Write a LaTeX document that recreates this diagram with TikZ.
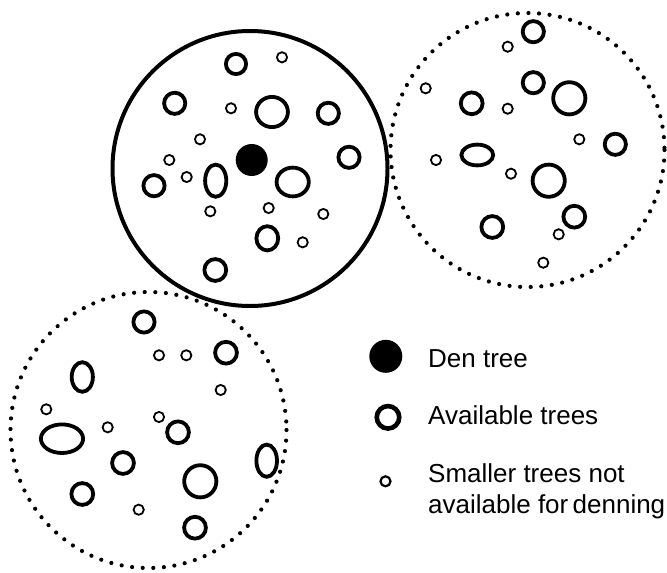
\documentclass[tikz,border=0pt]{standalone}
\usepackage{fontspec}
\setmainfont{Liberation Sans}
\usetikzlibrary{positioning}

\begin{document}
\begin{tikzpicture}[
  x=1pt, y=-1pt,
  every node/.style={font=\fontsize{26}{31}\selectfont, inner sep=0pt},
  homerange/.style={line width=4pt},
  otherrange/.style={line width=4.2pt, line cap=round, dash pattern=on 0pt off 10.6pt},
  avail/.style={line width=3.8pt},
  smalltree/.style={line width=1.8pt},
  denkey/.style={circle, fill, minimum size=33pt},
  availkey/.style={circle, draw, line width=4.6pt, minimum size=22.5pt},
  smallkey/.style={circle, draw, line width=2.2pt, minimum size=10pt}
]
  \useasboundingbox (0,0) rectangle (667,573);

  % home ranges
  \draw[homerange] (250,168.5) circle (137.5);
  \draw[otherrange] (527.5,150) circle (137);
  \draw[otherrange] (148.5,430) circle (138);

  % den tree
  \fill (251.7,160) circle (16);

  % available trees: x/y/outer rx/outer ry
  \foreach \x/\y/\rx/\ry in {
    236/64/12/12, 174.7/103.3/12.5/12.5, 272/112/17.8/17, 328.3/113.3/12.5/12.5,
    349/157.3/12.5/12.5, 154/185.7/12.5/12.5, 215.7/180.7/12.5/18, 292.7/182/18/16.3,
    267.3/238.3/12.8/14, 215.3/270/12.8/12.8,
    533.3/31.7/12.5/12.5, 533.3/82.7/12.5/12.5, 569.3/98.3/18/18, 471.7/103.3/12.8/12.8,
    615.3/144.3/12.5/12.5, 477.3/155/17.8/12.3, 548.7/180.7/18/18, 574.3/216.7/12.8/12.8,
    492.3/227/12.8/12.8,
    144/322/12.5/12.5, 226/352.7/12.8/12.8, 82.3/377/12.5/16.7, 178/432.3/12.8/12.8,
    62/438.7/23/16.2, 266.7/460.7/12.2/18, 123/463/12.8/12.8, 200.3/481.3/18/18,
    82.3/494/12.8/12.8, 195/527.7/12.8/12.8}
    \draw[avail] (\x,\y) ellipse [x radius=\rx-1.9, y radius=\ry-1.9];

  % smaller trees
  \foreach \x/\y in {
    282/57.3, 231/108.3, 200/139.3, 169.3/160, 186.7/177, 210.3/211.3, 268.7/208,
    323.3/214, 302.7/242.3,
    507.7/46.7, 425.7/88.3, 507.7/108.7, 579.3/139.3, 436/160, 511/173.7,
    558.7/234.3, 543.3/262.7,
    159/355.3, 186.3/355.3, 220.7/390, 46.3/409.3, 159/417, 107.7/427.3, 138.7/509.7}
    \draw[smalltree] (\x,\y) circle (5.1);

  % legend
  \node[denkey] (den) at (385.8,356.3) {};
  \node[availkey] (avl) at (388,417.3) {};
  \node[smallkey] (sml) at (385.5,481.3) {};

  \node[anchor=base west] (denlbl) at (428,367) {Den tree};
  \node[anchor=base west] (avllbl) at (428,424) {Available trees};
  \node[anchor=north west, align=left] (smllbl) at (428,463.5) {Smaller trees not\\available for\,denning};
\end{tikzpicture}
\end{document}
